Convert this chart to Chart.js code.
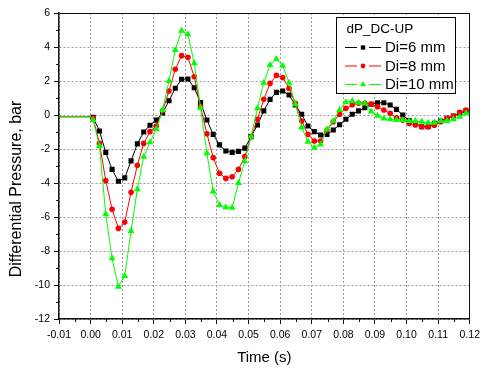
<!DOCTYPE html>
<html><head><meta charset="utf-8">
<script src="https://cdn.jsdelivr.net/npm/chart.js@4.4.1/dist/chart.umd.min.js"></script>
<style>html,body{margin:0;padding:0;background:#fff;}#wrap{width:485px;height:369px;}</style>
</head><body><div id="wrap"><canvas id="c" width="485" height="369"></canvas></div>
<script>
// ---- data ----
const timeS = [0.0008,0.0028,0.0048,0.0068,0.0088,0.0108,0.0128,0.0148,0.0168,0.0188,
  0.0208,0.0228,0.0248,0.0268,0.0288,0.0308,0.0328,0.0348,0.0368,0.0388,
  0.0408,0.0428,0.0448,0.0468,0.0488,0.0508,0.0528,0.0548,0.0568,0.0588,
  0.0608,0.0628,0.0648,0.0668,0.0688,0.0708,0.0728,0.0748,0.0768,0.0788,
  0.0808,0.0828,0.0848,0.0868,0.0888,0.0908,0.0928,0.0948,0.0968,0.0988,
  0.1008,0.1028,0.1048,0.1068,0.1088,0.1108,0.1128,0.1148,0.1168,0.1188];
const leadTime = [-0.01, 0.0];
const leadDp = [-0.1, -0.1];
const dpDi6 = [-0.14,-0.94,-2.2,-3.2,-3.9,-3.7,-2.7,-1.7,-1.0,-0.6,
  -0.3,0.12,0.84,1.57,2.1,2.12,1.6,0.73,-0.29,-1.14,
  -1.76,-2.12,-2.2,-2.14,-1.95,-1.27,-0.59,0.24,0.92,1.33,
  1.41,1.18,0.59,0.04,-0.65,-0.98,-1.18,-1.14,-0.88,-0.57,
  -0.25,0.04,0.24,0.43,0.63,0.72,0.72,0.59,0.33,0.0,
  -0.33,-0.5,-0.69,-0.69,-0.49,-0.35,-0.2,-0.06,0.1,0.24];
const dpDi8 = [-0.2,-1.67,-3.86,-5.55,-6.67,-6.3,-4.55,-2.96,-1.67,-0.98,
  -0.65,0.25,1.41,2.69,3.49,3.39,2.25,0.49,-1.1,-2.51,
  -3.43,-3.73,-3.63,-3.2,-2.45,-1.27,-0.25,0.92,1.86,2.33,
  2.2,1.57,0.69,-0.35,-1.14,-1.53,-1.53,-0.9,-0.4,0.05,
  0.39,0.6,0.69,0.69,0.65,0.49,0.29,0.1,-0.16,-0.3,
  -0.49,-0.59,-0.69,-0.69,-0.6,-0.4,-0.2,-0.08,0.16,0.29];
const dpDi10 = [-0.29,-1.82,-5.84,-8.43,-10.1,-9.47,-6.82,-4.37,-2.45,-1.6,
  -0.84,0.29,2.0,3.82,4.96,4.75,3.04,0.43,-2.25,-4.5,
  -5.3,-5.43,-5.45,-4.0,-2.72,-1.27,0.39,1.9,2.94,3.29,
  2.9,1.9,0.63,-0.73,-1.57,-1.92,-1.73,-0.84,-0.35,0.3,
  0.75,0.82,0.72,0.69,0.2,-0.05,-0.2,-0.25,-0.3,-0.3,
  -0.35,-0.35,-0.4,-0.45,-0.45,-0.35,-0.35,-0.25,-0.1,0.1];
const seriesNames = ['Di=6 mm','Di=8 mm','Di=10 mm'];
const legendTitle = 'dP_DC-UP';
const xTickLabels = ['-0.01','0.00','0.01','0.02','0.03','0.04','0.05','0.06','0.07','0.08','0.09','0.10','0.11','0.12'];
const yTickLabels = ['-12','-10','-8','-6','-4','-2','0','2','4','6'];
const xTitle = 'Time (s)';
const yTitle = 'Differential Pressure, bar';

// ---- build ----
const FONT = 'Arial, "Liberation Sans", sans-serif';
function pts(vals){
  const out = leadTime.map((t,i)=>({x:t,y:leadDp[i]}));
  return out.concat(timeS.map((t,i)=>({x:t,y:vals[i]})));
}
const styles = [
  {color:'#000000', pointStyle:'rect', radius:3.6},
  {color:'#ff0000', pointStyle:'circle', radius:2.8},
  {color:'#00ff00', pointStyle:'triangle', radius:4}
];
const seriesVals = [dpDi6, dpDi8, dpDi10];
const datasets = seriesVals.map((v,k)=>({
  label: seriesNames[k],
  data: pts(v),
  borderColor: styles[k].color,
  backgroundColor: styles[k].color,
  borderWidth: 1,
  pointStyle: styles[k].pointStyle,
  pointRadius: c => c.dataIndex < leadTime.length ? 0 : styles[k].radius,
  pointBorderWidth: 0,
  pointHoverRadius: 0,
  tension: 0,
  order: 3 - k
}));

const framePlugin = {
  id:'frame',
  afterDatasetsDraw(chart){
    const {ctx, chartArea:a, scales:{x,y}} = chart;
    ctx.save();
    ctx.strokeStyle = '#111'; ctx.lineWidth = 1;
    ctx.beginPath();
    ctx.moveTo(a.left, Math.round(a.top)+0.5); ctx.lineTo(a.right, Math.round(a.top)+0.5);
    ctx.moveTo(Math.round(a.right)-0.5, a.top); ctx.lineTo(Math.round(a.right)-0.5, a.bottom);
    ctx.stroke();
    // minor ticks
    ctx.beginPath();
    for (let k=0;k<13;k++){
      const px = Math.round(x.getPixelForValue(-0.005 + 0.01*k))+0.5;
      ctx.moveTo(px, a.bottom); ctx.lineTo(px, a.bottom+3);
    }
    for (let v=-11; v<6; v+=2){
      const py = Math.round(y.getPixelForValue(v))+0.5;
      ctx.moveTo(a.left, py); ctx.lineTo(a.left-3, py);
    }
    ctx.stroke();
    // y axis title (placed as in the reference, slightly below centre)
    ctx.fillStyle = '#000';
    ctx.font = '16px ' + FONT;
    ctx.textAlign = 'center'; ctx.textBaseline = 'middle';
    ctx.translate(17, 189);
    ctx.rotate(-Math.PI/2);
    ctx.fillText(yTitle, 0, 0);
    ctx.restore();
  }
};

const legendPlugin = {
  id:'boxLegend',
  afterDraw(chart){
    const ctx = chart.ctx;
    const bx = 336.5, by = 17.5, bw = 119, bh = 76;
    ctx.save();
    ctx.fillStyle = '#fff';
    ctx.fillRect(bx, by, bw, bh);
    ctx.strokeStyle = '#000'; ctx.lineWidth = 1;
    ctx.strokeRect(bx, by, bw, bh);
    ctx.fillStyle = '#000';
    ctx.textBaseline = 'middle'; ctx.textAlign = 'left';
    ctx.font = '13.5px ' + FONT;
    ctx.fillText(legendTitle, 346.5, 29.5);
    const rows = [47.5, 66, 84.5];
    ctx.font = '15px ' + FONT;
    seriesNames.forEach((name,k)=>{
      const yy = rows[k];
      ctx.strokeStyle = styles[k].color; ctx.lineWidth = 1;
      ctx.beginPath();
      ctx.moveTo(345, yy); ctx.lineTo(357, yy);
      ctx.moveTo(369, yy); ctx.lineTo(381, yy);
      ctx.stroke();
      ctx.fillStyle = styles[k].color;
      Chart.helpers.drawPoint(ctx, {pointStyle: styles[k].pointStyle, radius: styles[k].radius*0.85, rotation:0, borderWidth:0}, 363, yy);
      ctx.fillStyle = '#000';
      ctx.fillText(name, 385, yy+0.5);
    });
    ctx.restore();
  }
};

new Chart(document.getElementById('c'), {
  type:'line',
  data:{datasets},
  options:{
    responsive:false,
    animation:false,
    events:[],
    layout:{padding:{top:13,right:12,left:0,bottom:0}},
    plugins:{legend:{display:false}, tooltip:{enabled:false}},
    scales:{
      x:{
        type:'linear', min:-0.01, max:0.12,
        afterFit(s){ s.height = 50; },
        afterBuildTicks(s){ s.ticks = xTickLabels.map(l=>({value: parseFloat(l)})); },
        ticks:{ callback:(v,i)=>xTickLabels[i], maxRotation:0, autoSkip:false, padding:5,
          color:'#000', font:{family:FONT, size:10.5} },
        grid:{ color:'#9a9a9a', lineWidth:1, tickLength:5, tickColor:'#111', tickWidth:1 },
        border:{ color:'#111', width:1.5, dash:[2,2] },
        title:{ display:true, text:xTitle, color:'#000', font:{family:FONT, size:15}, padding:{top:0,bottom:2} }
      },
      y:{
        type:'linear', min:-12, max:6,
        afterFit(s){ s.width = 59; },
        afterBuildTicks(s){ s.ticks = yTickLabels.map(l=>({value: parseFloat(l)})); },
        ticks:{ callback:(v,i)=>yTickLabels[i], padding:4, color:'#000', font:{family:FONT, size:10.5} },
        grid:{ color:'#9a9a9a', lineWidth:1, tickLength:5, tickColor:'#111', tickWidth:1 },
        border:{ color:'#111', width:1.5, dash:[2,2] },
        title:{ display:false, text:yTitle }
      }
    }
  },
  plugins:[framePlugin, legendPlugin]
});
</script></body></html>
